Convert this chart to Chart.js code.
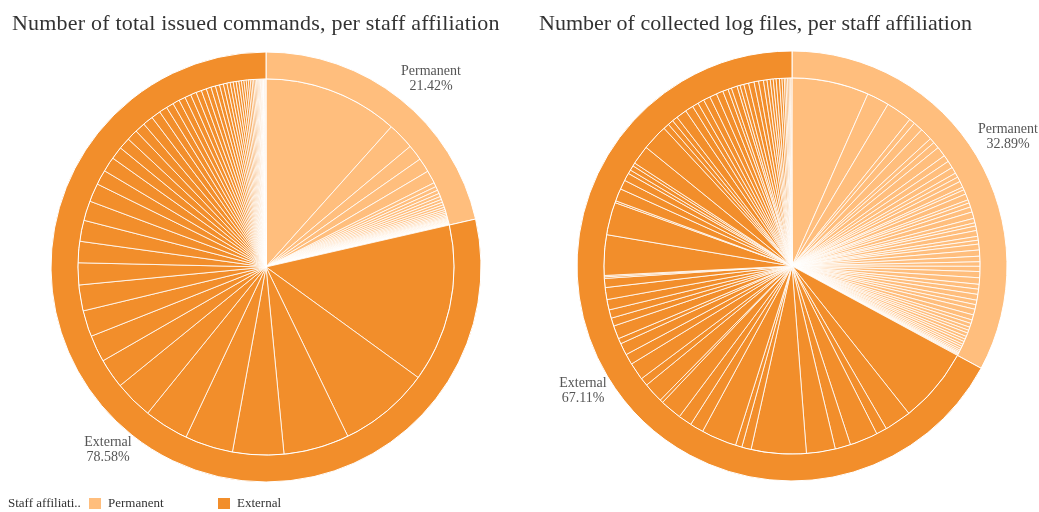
<!DOCTYPE html>
<html>
<head>
<meta charset="utf-8">
<script src="https://cdn.jsdelivr.net/npm/chart.js@4/dist/chart.umd.min.js"></script>
<style>
  html, body { margin: 0; padding: 0; background: #fff; width: 1039px; height: 512px; overflow: hidden; }
  body { position: relative; font-family: "Liberation Serif", "DejaVu Serif", serif; }
  canvas { position: absolute; top: 0; }
  .title { position: absolute; font-size: 22px; line-height: 22px; color: #333; white-space: nowrap; }
  .lbl { position: absolute; font-size: 14px; line-height: 15px; color: #555; text-align: center; transform: translateX(-50%); white-space: nowrap; }
  .leg { position: absolute; font-size: 13px; line-height: 13px; color: #333; white-space: nowrap; }
  .sw { position: absolute; width: 12px; height: 11px; }
</style>
</head>
<body>
<canvas id="c1" width="520" height="512" style="left:0px;width:520px;height:512px"></canvas>
<canvas id="c2" width="519" height="512" style="left:520px;width:519px;height:512px"></canvas>

<div class="title" id="t1" style="left:12px;top:12px;letter-spacing:0.2px">Number of total issued commands, per staff affiliation</div>
<div class="title" id="t2" style="left:539px;top:12px">Number of collected log files, per staff affiliation</div>

<div class="lbl" style="left:431px;top:63px">Permanent<br>21.42%</div>
<div class="lbl" style="left:108px;top:434px">External<br>78.58%</div>
<div class="lbl" style="left:1008px;top:121px">Permanent<br>32.89%</div>
<div class="lbl" style="left:583px;top:375px">External<br>67.11%</div>

<div class="leg" style="left:8px;top:496px">Staff affiliati..</div>
<div class="sw" style="left:89px;top:498px;background:#FFBE7D"></div>
<div class="leg" style="left:108px;top:496px">Permanent</div>
<div class="sw" style="left:218px;top:498px;background:#F28E2B"></div>
<div class="leg" style="left:237px;top:496px">External</div>

<script>
// ---- data (shares; units are relative slice sizes) ----
const affiliations = ["Permanent", "External"];
const commandsShare = [21.42, 78.58];   // % per affiliation (outer ring, left)
const logFilesShare = [32.89, 67.11];   // % per affiliation (outer ring, right)

// per-user slices, left chart (issued commands), relative sizes
const commandsPermanent = [41.8, 8.3, 4.9, 4.4, 4.0, 1.3, 1.2, 1.1, 1.0, 0.95, 0.9, 0.85, 0.8, 0.7, 0.6, 0.55, 0.5, 0.45, 0.4, 0.35, 0.3, 0.28, 0.25, 0.22, 0.2, 0.18, 0.15, 0.12, 0.1, 0.08, 0.06, 0.05, 0.04, 0.03];
const commandsExternal = [48.9, 28.2, 20.3, 15.8, 14.9, 13.8, 11.9, 9.2, 8.3, 8.1, 8.0, 6.8, 6.6, 6.5, 6.1, 5.7, 4.6, 4.6, 3.9, 3.6, 3.4, 3.2, 3.2, 2.9, 2.5, 2.3,
  2.1, 2.0, 1.9, 1.8, 1.7, 1.6, 1.5, 1.4, 1.3, 1.2, 1.1, 1.0, 0.95, 0.9, 0.85, 0.8, 0.75, 0.7, 0.65, 0.6, 0.55, 0.5, 0.45, 0.4, 0.35, 0.3, 0.28, 0.25, 0.22, 0.2, 0.18, 0.15, 0.12, 0.1, 0.08, 0.06, 0.05,
  0.2, 0.15, 0.12, 0.1];

// per-user slices, right chart (collected log files), relative sizes
const logFilesPermanent = [23.8, 6.9, 8.1, 1.8, 3.0, 3.8, 1.6, 2.0, 3.1, 2.1,
  2.2, 2.0, 1.4, 1.5, 1.9, 0.9, 1.4, 1.9, 1.0, 1.3, 1.6, 2.0, 1.4, 1.0, 1.4,
  1.8, 1.2, 1.2,
  1.8, 1.9, 1.7, 1.4, 1.6, 1.9,
  2.0, 1.5, 1.6, 1.8, 1.4, 1.4,
  1.8, 1.6, 1.1, 1.2, 1.0, 0.9, 1.1, 0.9, 0.8, 0.9, 0.7, 0.7, 0.6, 0.5, 0.4, 0.3, 0.28, 0.3];
const logFilesExternal = [23.2, 8.3, 3.3, 8.7, 4.8, 8.9, 17.0, 2.9, 2.0, 10.9, 4.2, 4.2, 6.7, 1.0, 6.2, 2.5, 5.4, 3.3, 3.7, 1.7, 4.1, 2.5, 2.6, 3.2, 3.7, 2.8, 0.5, 0.4,
  12.5, 10.1, 0.6, 3.9, 2.9, 2.4, 1.2, 1.5, 1.0, 5.9, 8.0, 1.8, 1.7, 1.7, 3.3, 2.5, 1.9, 2.0, 2.1, 2.2, 2.1, 1.7, 1.1,
  1.8, 0.94, 1.2, 1.5, 1.7, 1.4, 1.5, 1.1, 1.0, 0.9, 0.9, 1.0, 0.8, 0.7, 0.5, 0.5, 0.45, 0.35, 0.3, 0.25];

const COLOR_PERM = "#FFBE7D";
const COLOR_EXT = "#F28E2B";

function makePie(canvasId, ringShare, perm, ext, padding) {
  const innerData = perm.concat(ext);
  const innerColors = perm.map(() => COLOR_PERM).concat(ext.map(() => COLOR_EXT));
  return new Chart(document.getElementById(canvasId), {
    type: "pie",
    data: {
      labels: innerData.map((_, i) => i < perm.length ? affiliations[0] : affiliations[1]),
      datasets: [
        { data: ringShare, backgroundColor: [COLOR_PERM, COLOR_EXT], borderColor: "#fff", borderWidth: 1, weight: 1 },
        { data: innerData, backgroundColor: innerColors, borderColor: "#fff", borderWidth: 0.8, weight: 7 }
      ]
    },
    options: {
      responsive: false,
      animation: false,
      devicePixelRatio: 1,
      radius: 215,
      layout: { padding: padding },
      plugins: { legend: { display: false }, tooltip: { enabled: false }, title: { display: false } },
      events: []
    }
  });
}

makePie("c1", commandsShare, commandsPermanent, commandsExternal, { left: 51, top: 52, right: 39, bottom: 30 });
makePie("c2", logFilesShare, logFilesPermanent, logFilesExternal, { left: 57, top: 51, right: 32, bottom: 31 });
</script>
</body>
</html>
